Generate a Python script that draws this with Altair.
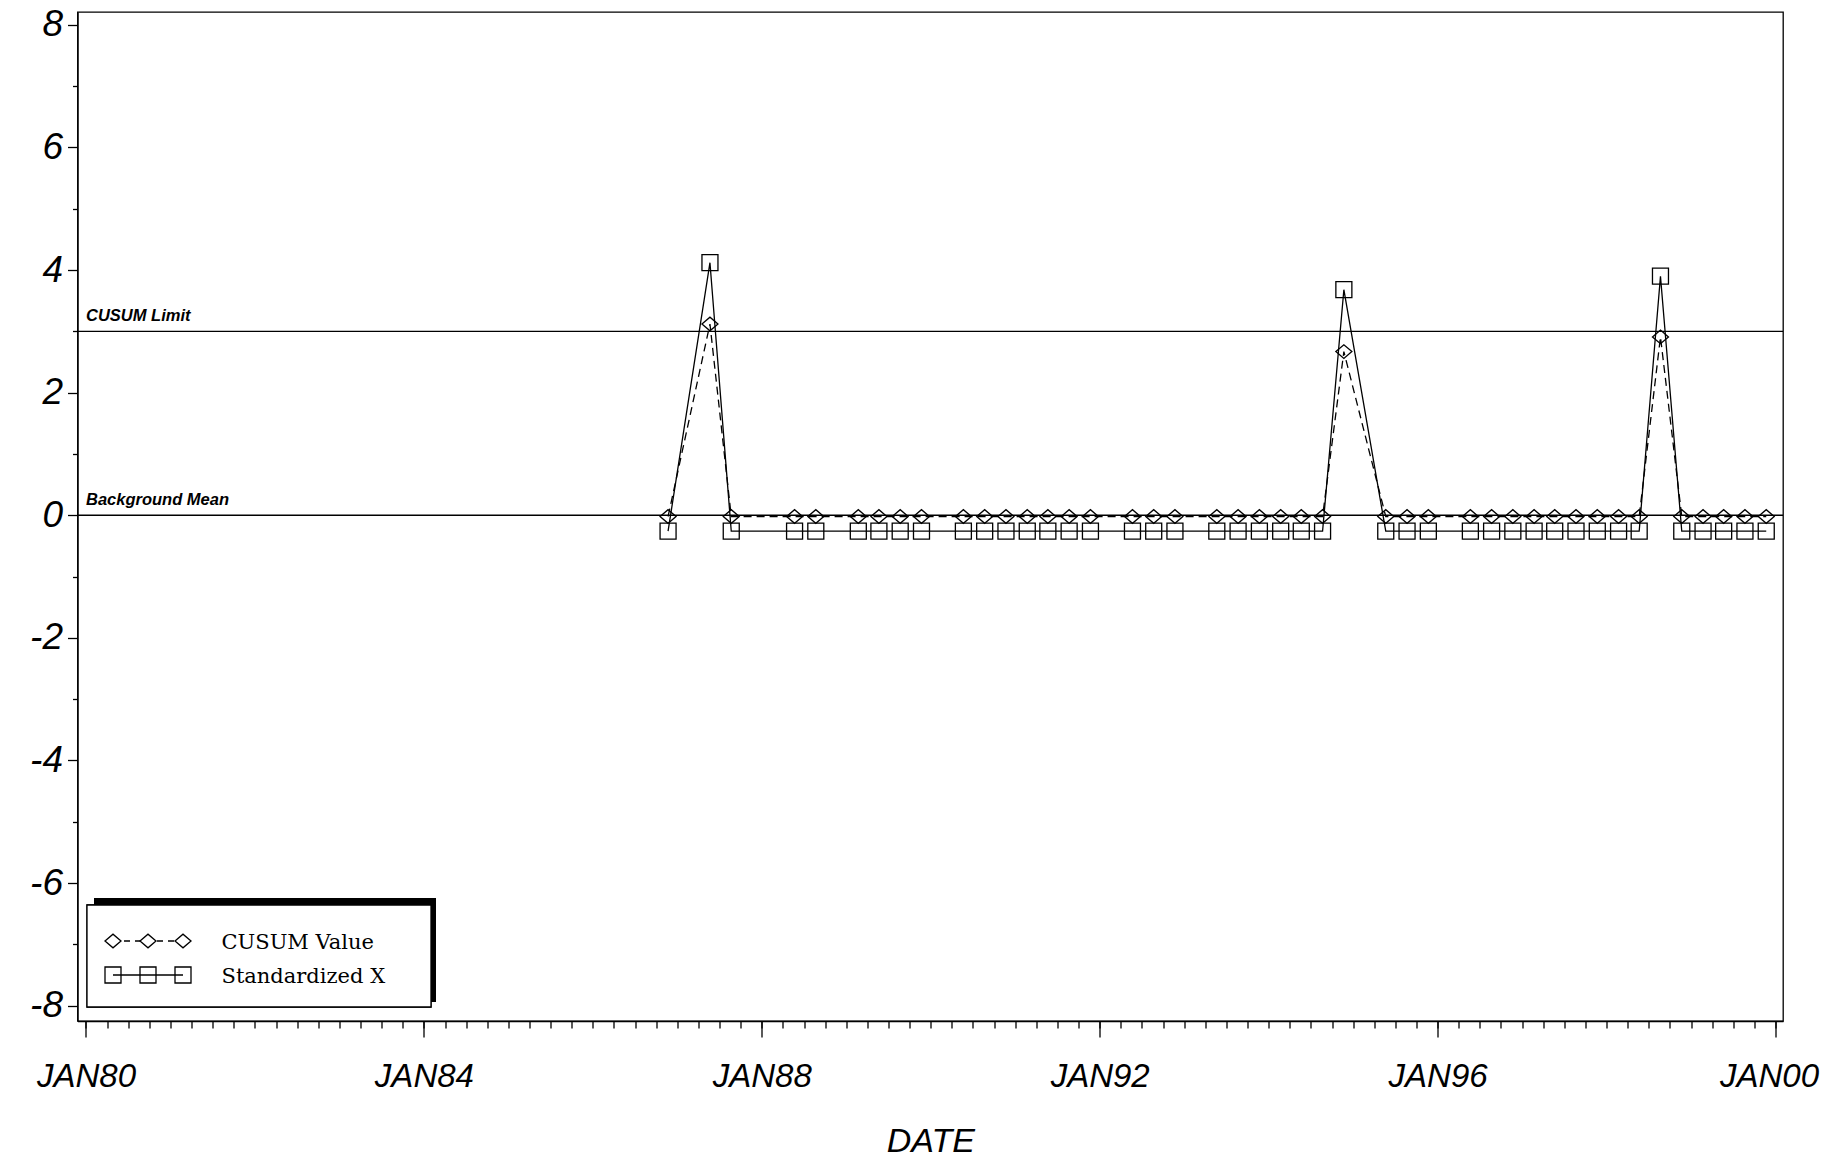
import altair as alt
import pandas as pd

# ---------------- data ----------------
# quarterly observations (plotted near mid-quarter)
dates = ["1986-11-22", "1987-05-22", "1987-08-22", "1988-05-22", "1988-08-22", "1989-02-22",
         "1989-05-22", "1989-08-22", "1989-11-22", "1990-05-22", "1990-08-22", "1990-11-22",
         "1991-02-22", "1991-05-22", "1991-08-22", "1991-11-22", "1992-05-22", "1992-08-22",
         "1992-11-22", "1993-05-22", "1993-08-22", "1993-11-22", "1994-02-22", "1994-05-22",
         "1994-08-22", "1994-11-22", "1995-05-22", "1995-08-22", "1995-11-22", "1996-05-22",
         "1996-08-22", "1996-11-22", "1997-02-22", "1997-05-22", "1997-08-22", "1997-11-22",
         "1998-02-22", "1998-05-22", "1998-08-22", "1998-11-22", "1999-02-22", "1999-05-22",
         "1999-08-22", "1999-11-22"]

cusum_value = [-0.02, 3.12, -0.02, -0.02, -0.02, -0.02,
               -0.02, -0.02, -0.02, -0.02, -0.02, -0.02,
               -0.02, -0.02, -0.02, -0.02, -0.02, -0.02,
               -0.02, -0.02, -0.02, -0.02, -0.02, -0.02,
               -0.02, 2.67, -0.02, -0.02, -0.02, -0.02,
               -0.02, -0.02, -0.02, -0.02, -0.02, -0.02,
               -0.02, -0.02, 2.91, -0.02, -0.02, -0.02,
               -0.02, -0.02]

standardized_x = [-0.26, 4.12, -0.26, -0.26, -0.26, -0.26,
                  -0.26, -0.26, -0.26, -0.26, -0.26, -0.26,
                  -0.26, -0.26, -0.26, -0.26, -0.26, -0.26,
                  -0.26, -0.26, -0.26, -0.26, -0.26, -0.26,
                  -0.26, 3.68, -0.26, -0.26, -0.26, -0.26,
                  -0.26, -0.26, -0.26, -0.26, -0.26, -0.26,
                  -0.26, -0.26, 3.90, -0.26, -0.26, -0.26,
                  -0.26, -0.26]

ref_values = [0, 3]
ref_labels = ["Background Mean", "CUSUM Limit"]

x_major = [1980, 1984, 1988, 1992, 1996, 2000]
x_minor = [1980 + k / 4 for k in range(81)]
y_major = [-8, -6, -4, -2, 0, 2, 4, 6, 8]
y_minor = [-7, -5, -3, -1, 1, 3, 5, 7]

legend_labels = ["CUSUM Value", "Standardized X"]


def decimal_year(s):
    ts = pd.Timestamp(s)
    return ts.year + (ts.dayofyear - 1) / (366 if ts.is_leap_year else 365)


df = pd.DataFrame({
    "t": [decimal_year(d) for d in dates],
    "cusum": cusum_value,
    "stdx": standardized_x,
})
refs = pd.DataFrame({"value": ref_values, "label": ref_labels})

# ---------------- style ----------------
W, H = 1705.5, 1009
FONT = "Liberation Sans, Arial, Helvetica"
LW = 1.3
DIAMOND = "M-1,0L0,-0.85L1,0L0,0.85Z"

xs = alt.Scale(domain=[1979.8994, 2000.0888], nice=False, zero=False)
ys = alt.Scale(domain=[-8.25, 8.21], nice=False, zero=False)

x_axis_major = alt.Axis(
    values=x_major, orient="bottom", grid=False,
    labelExpr="'JAN' + slice(toString(datum.value), 2)",
    tickSize=16, tickWidth=LW, tickColor="black",
    domainColor="black", domainWidth=LW,
    labelFont=FONT, labelFontSize=33, labelFontStyle="italic", labelColor="black",
    labelPadding=23, labelFlush=8, labelFlushOffset=43, labelOverlap=False,
    title="DATE", titleFont=FONT, titleFontSize=34, titleFontStyle="italic",
    titleFontWeight="normal", titleColor="black", titleBaseline="alphabetic", titleY=130,
)
x_axis_minor = alt.Axis(
    values=x_minor, orient="bottom", grid=False, labels=False, domain=False,
    tickSize=7, tickWidth=LW, tickColor="black", title="",
)
y_axis_major = alt.Axis(
    values=y_major, orient="left", grid=False,
    labelExpr="toString(datum.value)",
    tickSize=10, tickWidth=LW, tickColor="black",
    domainColor="black", domainWidth=LW,
    labelFont=FONT, labelFontSize=37, labelFontStyle="italic", labelColor="black",
    labelPadding=5, title="",
)
y_axis_minor = alt.Axis(
    values=y_minor, orient="left", grid=False, labels=False, domain=False,
    tickSize=5, tickWidth=LW, tickColor="black", title="",
)

base = alt.Chart(df)

ref_rules = alt.Chart(refs).mark_rule(color="black", strokeWidth=LW).encode(
    y=alt.Y("value:Q", scale=ys, axis=None)
)
ref_text = alt.Chart(refs).mark_text(
    align="left", baseline="alphabetic", dy=-10, font="Liberation Sans",
    fontSize=16.5, fontStyle="italic", fontWeight="bold", color="black",
).encode(
    x=alt.value(8.5),
    y=alt.Y("value:Q", scale=ys, axis=None),
    text="label:N",
)

std_line = base.mark_line(color="black", strokeWidth=LW).encode(
    x=alt.X("t:Q", scale=xs, axis=x_axis_major),
    y=alt.Y("stdx:Q", scale=ys, axis=y_axis_major),
)
std_pts = base.mark_point(shape="square", size=256, filled=False, color="black",
                          strokeWidth=LW, opacity=1).encode(
    x=alt.X("t:Q", scale=xs, axis=x_axis_minor),
    y=alt.Y("stdx:Q", scale=ys, axis=y_axis_minor),
)
cus_line = base.mark_line(color="black", strokeWidth=LW, strokeDash=[8, 5]).encode(
    x=alt.X("t:Q", scale=xs, axis=None),
    y=alt.Y("cusum:Q", scale=ys, axis=None),
)
cus_pts = base.mark_point(shape=DIAMOND, size=256, filled=False, color="black",
                          strokeWidth=LW, opacity=1).encode(
    x=alt.X("t:Q", scale=xs, axis=None),
    y=alt.Y("cusum:Q", scale=ys, axis=None),
)

# ---------------- legend (pixel layout) ----------------
leg_sym_x = [35.5, 70.5, 105.5]
leg_row_y = [929, 963]
leg_sym = pd.DataFrame({
    "px": leg_sym_x * 2,
    "py": [leg_row_y[0]] * 3 + [leg_row_y[1]] * 3,
    "series": [legend_labels[0]] * 3 + [legend_labels[1]] * 3,
})
leg_txt = pd.DataFrame({"px": [144, 144], "py": [937, 970.5], "label": legend_labels})

shadow = alt.Chart(refs).mark_rect(color="black").encode(
    x=alt.value(16.5), x2=alt.value(358.5), y=alt.value(886), y2=alt.value(990)
)
box = alt.Chart(refs).mark_rect(fill="white", stroke="black", strokeWidth=LW).encode(
    x=alt.value(9.5), x2=alt.value(353.5), y=alt.value(893), y2=alt.value(995)
)
leg_line_c = alt.Chart(leg_sym).transform_filter(
    alt.datum.series == legend_labels[0]).mark_line(
    color="black", strokeWidth=LW, strokeDash=[6, 5]).encode(
    x=alt.X("px:Q", scale=None, axis=None), y=alt.Y("py:Q", scale=None, axis=None),
    order="px:Q")
leg_line_s = alt.Chart(leg_sym).transform_filter(
    alt.datum.series == legend_labels[1]).mark_line(
    color="black", strokeWidth=LW).encode(
    x=alt.X("px:Q", scale=None, axis=None), y=alt.Y("py:Q", scale=None, axis=None),
    order="px:Q")
leg_pts_c = alt.Chart(leg_sym).transform_filter(
    alt.datum.series == legend_labels[0]).mark_point(
    shape=DIAMOND, size=256, filled=True, fill="white", stroke="black",
    strokeWidth=LW, opacity=1).encode(
    x=alt.X("px:Q", scale=None, axis=None), y=alt.Y("py:Q", scale=None, axis=None))
leg_pts_s = alt.Chart(leg_sym).transform_filter(
    alt.datum.series == legend_labels[1]).mark_point(
    shape="square", size=256, filled=False, color="black",
    strokeWidth=LW, opacity=1).encode(
    x=alt.X("px:Q", scale=None, axis=None), y=alt.Y("py:Q", scale=None, axis=None))
leg_text = alt.Chart(leg_txt).mark_text(
    align="left", baseline="alphabetic", font="DejaVu Serif", fontSize=21, color="black"
).encode(
    x=alt.X("px:Q", scale=None, axis=None), y=alt.Y("py:Q", scale=None, axis=None),
    text="label:N")

chart = alt.layer(
    ref_rules, ref_text, std_line, std_pts, cus_line, cus_pts,
    shadow, box, leg_line_c, leg_line_s, leg_pts_c, leg_pts_s, leg_text,
).resolve_axis(
    x="independent", y="independent"
).properties(
    width=W, height=H,
    autosize=alt.AutoSizeParams(type="none"),
    padding={"left": 69.5, "top": 4, "right": 37, "bottom": 138},
    background="white",
).configure_view(
    stroke="black", strokeWidth=LW
)

chart.save("out.html", embed_options={"renderer": "svg", "actions": False})
